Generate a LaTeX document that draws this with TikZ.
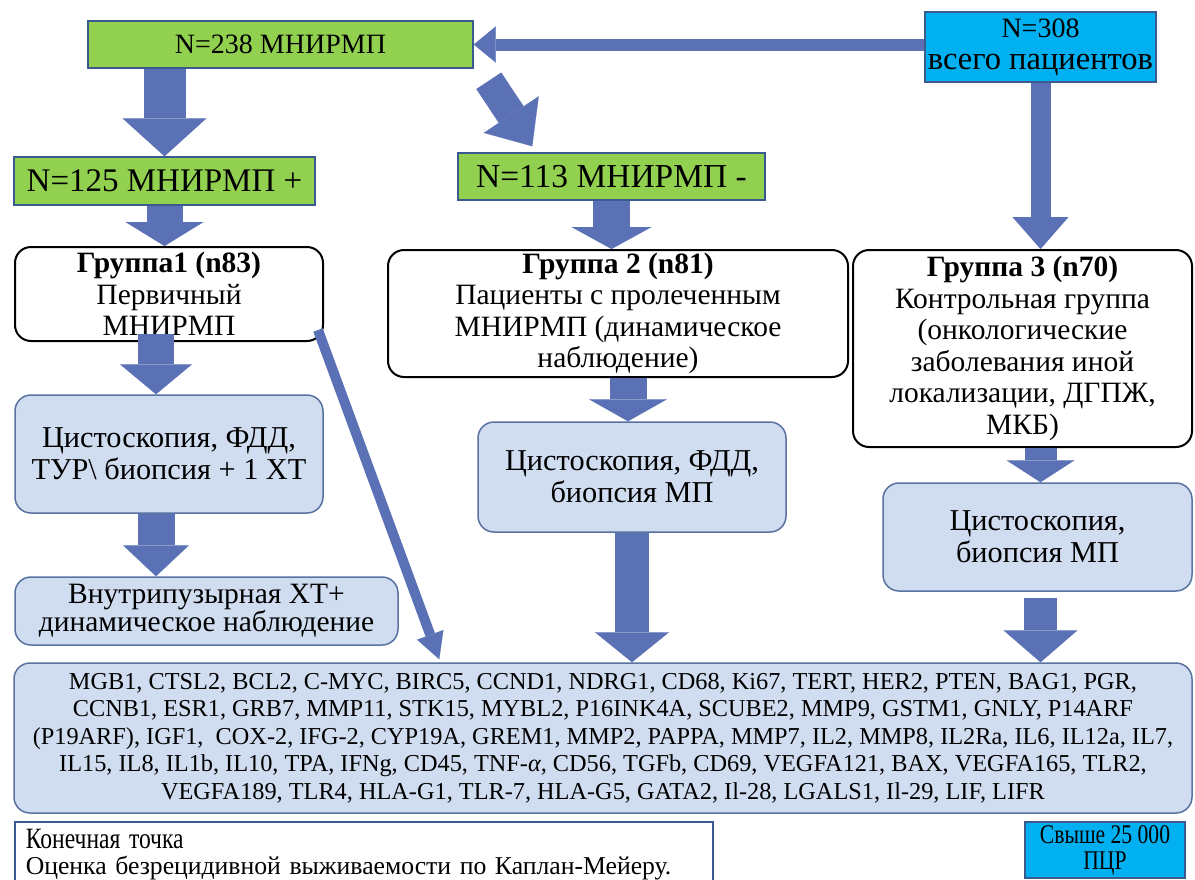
\documentclass[tikz,border=0pt]{standalone}
\usepackage{fontspec}
\setmainfont{Liberation Serif}
\newfontfamily\narrowserif[FakeStretch=0.8]{Liberation Serif}
\usetikzlibrary{arrows.meta, calc}

\definecolor{boxgreen}{HTML}{92D050}
\definecolor{boxcyan}{HTML}{00B0F0}
\definecolor{edgeblue}{HTML}{3B5A8F}
\definecolor{paleblue}{HTML}{D0DCEF}
\definecolor{arrowblue}{HTML}{5A71B5}
\pgfdeclarehorizontalshading{pageshade}{100bp}{color(0bp)=(black!13); color(14bp)=(white);
  color(78bp)=(white); color(100bp)=(black!15)}

\begin{document}
\begin{tikzpicture}[x=1pt,y=-1pt]
  \tikzset{
    base/.style={align=center, inner sep=2pt},
    wh/.style 2 args={minimum width=#1pt, minimum height=#2pt},
    greenbox/.style={base, draw=edgeblue, line width=1.5pt, fill=boxgreen},
    cyanbox/.style={base, draw=edgeblue, line width=1.5pt, fill=boxcyan},
    groupbox/.style={base, draw=black, line width=2pt, fill=white,
                     rounded corners=16pt, font=\fontsize{29.5}{31.5}\selectfont},
    stepbox/.style={base, draw=edgeblue!85, line width=1.5pt, fill=paleblue,
                    rounded corners=16pt, font=\fontsize{30.3}{32}\selectfont},
    fat/.style n args={3}{draw=arrowblue, line width=#1,
                          -{Triangle[width=#2, length=#3, line width=0.1pt]}},
  }
  \useasboundingbox (0,0) rectangle (1195,879);
  \fill[white] (0,0) rectangle (1195,879);
  \shade[shading=pageshade] (7,8) rectangle (1195,879);

  % totals
  \node[cyanbox, wh={231}{70}, font=\fontsize{28}{32}\selectfont] (n_308) at (1040.5,47)
    {N=308\\{\fontsize{32.5}{32}\selectfont всего пациентов}};
  \node[greenbox, wh={385}{47}, font=\fontsize{28}{30}\selectfont] (n_238) at (280.5,44.5) {N=238 МНИРМП};
  \node[greenbox, wh={301}{48}, font=\fontsize{33}{35}\selectfont] (n_125) at (164.5,181) {N=125 МНИРМП +};
  \node[greenbox, wh={307}{47}, font=\fontsize{33.5}{35}\selectfont] (n_113) at (611.5,176.5) {N=113 МНИРМП -};

  % groups
  \node[groupbox, wh={308}{94}] (g_1) at (169,294)
    {\textbf{Группа1 (n83)}\\Первичный\\МНИРМП};
  \node[groupbox, wh={460}{127}] (g_2) at (618,313.5)
    {\textbf{Группа 2 (n81)}\\Пациенты с пролеченным\\МНИРМП (динамическое\\наблюдение)};
  \node[groupbox, wh={339}{197}] (g_3) at (1022.5,348.5)
    {\textbf{Группа 3 (n70)}\\Контрольная группа\\(онкологические\\заболевания иной\\локализации, ДГПЖ,\\МКБ)};

  % procedures
  \node[stepbox, wh={308}{118}] (c_1) at (169,454)
    {Цистоскопия, ФДД,\\ТУР\textbackslash\ биопсия + 1 ХТ};
  \node[stepbox, wh={383}{68}, font=\fontsize{29.5}{28}\selectfont] (c_1b) at (206.5,611)
    {Внутрипузырная ХТ+\\динамическое наблюдение};
  \node[stepbox, wh={308}{110}] (c_2) at (632,477)
    {Цистоскопия, ФДД,\\биопсия МП};
  \node[stepbox, wh={309}{108}] (c_3) at (1037.5,537)
    {Цистоскопия,\\биопсия МП};

  \node[stepbox, wh={1178}{150}, font=\fontsize{24.3}{27.5}\selectfont] (genes) at (603,738)
    {MGB1, CTSL2, BCL2, C-MYC, BIRC5, CCND1, NDRG1, CD68, Ki67, TERT, HER2, PTEN, BAG1, PGR,\\
     CCNB1, ESR1, GRB7, MMP11, STK15, MYBL2, P16INK4A, SCUBE2, MMP9, GSTM1, GNLY, P14ARF\\
     (P19ARF), IGF1,~ COX-2, IFG-2, CYP19A, GREM1, MMP2, PAPPA, MMP7, IL2, MMP8, IL2Ra, IL6, IL12a, IL7,\\
     IL15, IL8, IL1b, IL10, TPA, IFNg, CD45, TNF-\textit{α}, CD56, TGFb, CD69, VEGFA121, BAX, VEGFA165, TLR2,\\
     VEGFA189, TLR4, HLA-G1, TLR-7, HLA-G5, GATA2, Il-28, LGALS1, Il-29, LIF, LIFR};

  % endpoint
  \node[draw=edgeblue, line width=1.5pt, fill=white, anchor=north west, align=left,
        text width=676pt, inner xsep=11pt, inner ysep=7pt, text depth=35pt,
        font=\fontsize{25.7}{26}\selectfont] (end) at (14,821)
    {{\narrowserif\fontsize{29.5}{26}\selectfont Конечная точка}\\
     Оценка безрецидивной выживаемости по Каплан-Мейеру.};
  \node[cyanbox, wh={160}{56}, font=\narrowserif\fontsize{27}{26}\selectfont] (pcr) at (1105,850)
    {Свыше 25 000\\ПЦР};

  % arrows
  \coordinate (col_1) at ($(c_1.south)+(-13,0)$);
  \coordinate (col_2) at ($(g_2.south)+(10,0)$);
  \coordinate (col_3) at ($(c_3.south)+(3,0)$);
  \draw[fat={12pt}{36pt}{22pt}] (n_308.west |- n_238) -- (n_238.east);
  \draw[fat={42pt}{84pt}{38pt}] (n_125 |- n_238.south) -- (n_125.north);
  \draw[fat={30pt}{66pt}{38pt}] ($(n_238.south east)+(15,12)$) -- ($(n_113.north west)+(75,-6)$);
  \draw[fat={20pt}{56pt}{32pt}] (n_308.south) -- (n_308.south |- g_3.north);
  \draw[fat={36pt}{78pt}{24pt}] (n_125.south) -- (n_125.south |- g_1.north);
  \draw[fat={37pt}{80pt}{22pt}] (n_113.south) -- (n_113.south |- g_2.north);
  \draw[fat={36pt}{72pt}{30pt}] ($(col_1 |- g_1.south)+(0,-8)$) -- (col_1 |- c_1.north);
  \draw[fat={37pt}{66pt}{31pt}] (col_1) -- (col_1 |- c_1b.north);
  \draw[fat={37pt}{78pt}{22pt}] (col_2) -- (col_2 |- c_2.north);
  \draw[fat={34pt}{74pt}{30pt}] (c_2.south) -- (c_2.south |- genes.north);
  \draw[fat={32pt}{68pt}{22pt}] (col_3 |- g_3.south) -- (col_3 |- c_3.north);
  \draw[fat={33pt}{74pt}{32pt}] ($(col_3)+(0,6)$) -- (col_3 |- genes.north);
  \draw[fat={10pt}{28pt}{26pt}] ($(g_1.south east)+(-6,-12)$) -- ($(genes.north west)+(426,-3)$);
\end{tikzpicture}
\end{document}
